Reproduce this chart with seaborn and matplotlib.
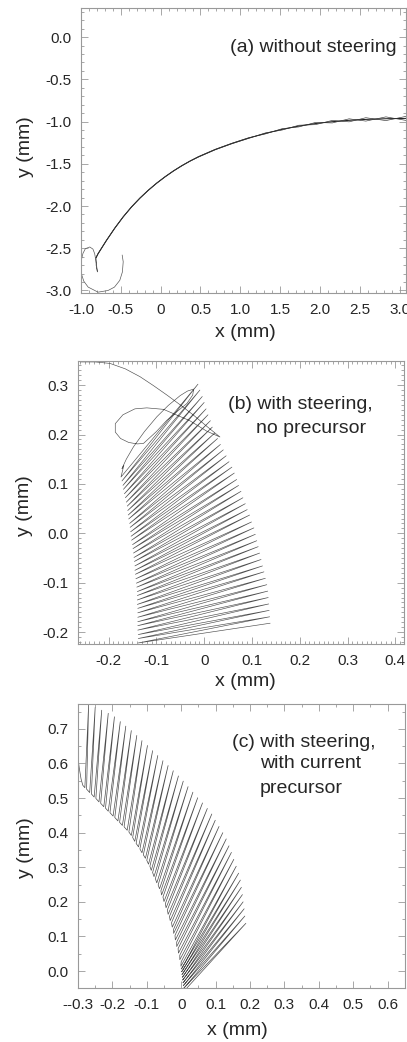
import numpy as np
import matplotlib.pyplot as plt
import seaborn as sns
from matplotlib.ticker import MultipleLocator

# --- style ---
sns.set_style("ticks")
plt.rcParams['font.family'] = ['Liberation Sans', 'DejaVu Sans']
plt.rcParams['axes.unicode_minus'] = False

FRAME = '0.6'

# --- (a) without steering: start loop, then three nearly coincident arcs ---
a_loop_x = [-0.483, -0.470, -0.480, -0.513, -0.580, -0.660, -0.786, -0.910, -0.965, -0.996,
            -0.996, -0.975, -0.945, -0.890, -0.850, -0.828, -0.807, -0.794, -0.810, -0.810]
a_loop_y = [-2.58, -2.66, -2.78, -2.88, -2.96, -3.00, -3.02, -2.96, -2.89, -2.80,
            -2.64, -2.56, -2.505, -2.485, -2.51, -2.565, -2.683, -2.78, -2.70, -2.61]
a_arc_x = [-0.81, -0.786, -0.681, -0.576, -0.471, -0.366, -0.261, -0.156, -0.051, 0.055,
           0.160, 0.265, 0.370, 0.475, 0.685, 0.895, 1.105, 1.315, 1.525, 1.735,
           1.945, 2.155, 2.366, 2.576, 2.828, 3.08, 3.15]
a_arc_mid = [-2.61, -2.565, -2.408, -2.262, -2.129, -2.011, -1.907, -1.814, -1.730, -1.654,
             -1.585, -1.523, -1.467, -1.417, -1.331, -1.259, -1.195, -1.140, -1.092, -1.053,
             -1.023, -1.001, -0.985, -0.974, -0.966, -0.962, -0.961]
a_arc_hi = [-2.61, -2.563, -2.406, -2.260, -2.127, -2.009, -1.905, -1.812, -1.728, -1.652,
            -1.583, -1.521, -1.465, -1.414, -1.328, -1.256, -1.191, -1.146, -1.084, -1.063,
            -1.010, -1.016, -0.967, -0.994, -0.944, -0.986, -0.937]
a_arc_lo = [-2.61, -2.567, -2.410, -2.264, -2.131, -2.013, -1.909, -1.816, -1.732, -1.656,
            -1.587, -1.525, -1.469, -1.420, -1.334, -1.262, -1.199, -1.134, -1.100, -1.043,
            -1.036, -0.986, -1.003, -0.954, -0.988, -0.938, -0.985]

# --- (b) with steering, no precursor ---
b_lead_x = [-0.259, -0.228, -0.197, -0.165, -0.134, -0.106, -0.078, -0.050, -0.022, 0.005,
            0.033, 0.005, -0.030, -0.085, -0.120, -0.145, -0.170, -0.186, -0.186, -0.175,
            -0.158, -0.140, -0.127, -0.100, -0.078, -0.055, -0.036, -0.024, -0.022, -0.035,
            -0.050, -0.075, -0.099, -0.125, -0.148, -0.163, -0.172, -0.168]
b_lead_y = [0.347, 0.347, 0.344, 0.333, 0.317, 0.299, 0.280, 0.260, 0.239, 0.217,
            0.195, 0.207, 0.228, 0.251, 0.254, 0.252, 0.240, 0.222, 0.205, 0.192,
            0.184, 0.181, 0.182, 0.206, 0.229, 0.248, 0.263, 0.280, 0.292, 0.288,
            0.279, 0.259, 0.236, 0.206, 0.175, 0.150, 0.131, 0.138]
b_left_x = [-0.174, -0.172, -0.170, -0.169, -0.167, -0.165, -0.163, -0.161, -0.160, -0.159,
            -0.158, -0.156, -0.155, -0.154, -0.153, -0.152, -0.150, -0.149, -0.148, -0.147,
            -0.146, -0.145, -0.145, -0.144, -0.143, -0.142, -0.141, -0.140, -0.140, -0.140,
            -0.140, -0.139, -0.139, -0.139, -0.139, -0.139, -0.139, -0.138, -0.138, -0.138]
b_left_y = [0.114, 0.106, 0.097, 0.089, 0.080, 0.072, 0.063, 0.055, 0.046, 0.037,
            0.029, 0.020, 0.012, 0.003, -0.006, -0.014, -0.023, -0.031, -0.040, -0.049,
            -0.057, -0.066, -0.075, -0.083, -0.092, -0.101, -0.109, -0.118, -0.126, -0.135,
            -0.144, -0.152, -0.161, -0.170, -0.179, -0.187, -0.196, -0.205, -0.213, -0.222]
b_right_x = [-0.013, -0.009, -0.004, 0.000, 0.004, 0.008, 0.013, 0.017, 0.022, 0.028,
             0.034, 0.040, 0.046, 0.052, 0.058, 0.063, 0.068, 0.072, 0.077, 0.081,
             0.086, 0.090, 0.095, 0.099, 0.104, 0.107, 0.110, 0.113, 0.116, 0.119,
             0.122, 0.125, 0.128, 0.131, 0.133, 0.134, 0.135, 0.136, 0.137, 0.138]
b_right_y = [0.302, 0.290, 0.277, 0.265, 0.252, 0.240, 0.228, 0.215, 0.203, 0.192,
             0.180, 0.169, 0.157, 0.145, 0.134, 0.122, 0.109, 0.097, 0.085, 0.072,
             0.060, 0.048, 0.037, 0.023, 0.011, -0.002, -0.015, -0.027, -0.040, -0.053,
             -0.066, -0.078, -0.091, -0.104, -0.117, -0.130, -0.143, -0.156, -0.169, -0.182]

# --- (c) with steering, with current precursor ---
c_lead_x = [-0.300, -0.296, -0.291, -0.286]
c_lead_y = [0.615, 0.585, 0.555, 0.537]
c_base_x = [-0.280, -0.266, -0.253, -0.239, -0.225, -0.212, -0.198, -0.184, -0.171, -0.157,
            -0.145, -0.135, -0.124, -0.114, -0.104, -0.095, -0.087, -0.079, -0.071, -0.063,
            -0.057, -0.050, -0.044, -0.038, -0.032, -0.026, -0.022, -0.017, -0.013, -0.008,
            -0.004, -0.001, 0.000, 0.001, 0.002, 0.003, 0.004, 0.005, 0.006, 0.007]
c_base_y = [0.530, 0.516, 0.503, 0.489, 0.475, 0.462, 0.448, 0.434, 0.421, 0.407,
            0.392, 0.375, 0.359, 0.342, 0.326, 0.309, 0.291, 0.273, 0.255, 0.238,
            0.220, 0.201, 0.183, 0.164, 0.146, 0.127, 0.109, 0.090, 0.071, 0.052,
            0.033, 0.014, 0.006, -0.002, -0.010, -0.018, -0.026, -0.034, -0.042, -0.050]
c_tip_x = [-0.269, -0.250, -0.231, -0.212, -0.194, -0.177, -0.161, -0.145, -0.129, -0.114,
           -0.098, -0.083, -0.068, -0.053, -0.038, -0.023, -0.008, 0.006, 0.020, 0.034,
           0.048, 0.062, 0.076, 0.089, 0.099, 0.110, 0.121, 0.131, 0.139, 0.146,
           0.153, 0.160, 0.167, 0.172, 0.175, 0.178, 0.180, 0.183, 0.185, 0.188]
c_tip_y = [0.771, 0.762, 0.754, 0.745, 0.735, 0.721, 0.708, 0.695, 0.681, 0.666,
           0.652, 0.637, 0.623, 0.608, 0.594, 0.579, 0.564, 0.549, 0.533, 0.517,
           0.501, 0.486, 0.470, 0.454, 0.436, 0.418, 0.400, 0.382, 0.362, 0.343,
           0.323, 0.303, 0.283, 0.263, 0.242, 0.221, 0.200, 0.180, 0.159, 0.138]
c_back_x = [-0.275, -0.261, -0.248, -0.234, -0.220, -0.207, -0.193, -0.179, -0.166, -0.152,
            -0.141, -0.131, -0.120, -0.110, -0.100, -0.091, -0.083, -0.075, -0.067, -0.059,
            -0.053, -0.046, -0.040, -0.034, -0.028, -0.022, -0.018, -0.013, -0.009, -0.004,
            0.000, 0.003, 0.004, 0.005, 0.006, 0.007, 0.008, 0.009, 0.010, 0.011]
c_back_y = [0.526, 0.512, 0.499, 0.485, 0.471, 0.458, 0.444, 0.430, 0.417, 0.402,
            0.386, 0.369, 0.353, 0.336, 0.320, 0.303, 0.285, 0.267, 0.249, 0.232,
            0.214, 0.195, 0.177, 0.158, 0.140, 0.121, 0.103, 0.084, 0.065, 0.046,
            0.027, 0.009, 0.001, -0.007, -0.015, -0.023, -0.031, -0.039, -0.047, -0.055]

# --- tick labels ---
a_xticks = [-1.0, -0.5, 0, 0.5, 1.0, 1.5, 2.0, 2.5, 3.0]
a_xlabels = ['-1.0', '-0.5', '0', '0.5', '1.0', '1.5', '2.0', '2.5', '3.0']
a_yticks = [0.0, -0.5, -1.0, -1.5, -2.0, -2.5, -3.0]
a_ylabels = ['0.0', '-0.5', '-1.0', '-1.5', '-2.0', '-2.5', '-3.0']
b_xticks = [-0.2, -0.1, 0, 0.1, 0.2, 0.3, 0.4]
b_xlabels = ['-0.2', '-0.1', '0', '0.1', '0.2', '0.3', '0.4']
b_yticks = [0.3, 0.2, 0.1, 0.0, -0.1, -0.2]
b_ylabels = ['0.3', '0.2', '0.1', '0.0', '-0.1', '-0.2']
c_xticks = [-0.3, -0.2, -0.1, 0, 0.1, 0.2, 0.3, 0.4, 0.5, 0.6]
c_xlabels = ['--0.3', '-0.2', '-0.1', '0', '0.1', '0.2', '0.3', '0.4', '0.5', '0.6']
c_yticks = [0.7, 0.6, 0.5, 0.4, 0.3, 0.2, 0.1, 0.0]
c_ylabels = ['0.7', '0.6', '0.5', '0.4', '0.3', '0.2', '0.1', '0.0']


def trace(ax, xs, ys, lw=0.6, color='0.2'):
    sns.lineplot(x=np.asarray(xs), y=np.asarray(ys), sort=False, estimator=None,
                 ax=ax, color=color, linewidth=lw)


def style(ax, xt, xl, xminor, yt, yl, yminor, xlim, ylim):
    ax.set_xlim(*xlim)
    ax.set_ylim(*ylim)
    ax.set_xticks(xt)
    ax.set_xticklabels(xl)
    ax.set_yticks(yt)
    ax.set_yticklabels(yl)
    ax.xaxis.set_minor_locator(MultipleLocator(xminor))
    ax.yaxis.set_minor_locator(MultipleLocator(yminor))
    ax.tick_params(which='both', direction='in', top=True, right=True,
                   color=FRAME, width=0.6, labelsize=11)
    ax.tick_params(which='major', length=5)
    ax.tick_params(which='minor', length=2.5)
    ax.tick_params(axis='x', pad=7)
    ax.tick_params(axis='y', pad=7)
    for s in ax.spines.values():
        s.set_color(FRAME)
        s.set_linewidth(0.8)


fig = plt.figure(figsize=(4.07, 10.42), dpi=100)

# panel (a)
ax_a = fig.add_axes([0.199, 0.7188, 0.7985, 0.2735])
trace(ax_a, a_loop_x, a_loop_y, lw=0.5, color='0.35')
trace(ax_a, a_arc_x, a_arc_mid, lw=0.7, color='0.1')
trace(ax_a, a_arc_x, a_arc_hi, lw=0.45, color='0.2')
trace(ax_a, a_arc_x, a_arc_lo, lw=0.45, color='0.2')
style(ax_a, a_xticks, a_xlabels, 0.1, a_yticks, a_ylabels, 0.1, (-1.0, 3.08), (-3.03, 0.345))
ax_a.text(0.457, 0.86, '(a) without steering', transform=ax_a.transAxes,
          fontsize=14, va='center', ha='left')
ax_a.set_xlabel('x (mm)', fontsize=14, va='center')
ax_a.xaxis.set_label_coords(0.505, -0.14)
ax_a.set_ylabel('y (mm)', fontsize=14, va='center')
ax_a.yaxis.set_label_coords(-0.172, 0.512)

# panel (b)
ax_b = fig.add_axes([0.1916, 0.382, 0.801, 0.2716])
zig_bx = np.column_stack([b_left_x, b_right_x]).ravel()
zig_by = np.column_stack([b_left_y, b_right_y]).ravel()
trace(ax_b, np.concatenate([b_lead_x, zig_bx]), np.concatenate([b_lead_y, zig_by]),
      lw=0.45, color='0.3')
style(ax_b, b_xticks, b_xlabels, 0.01, b_yticks, b_ylabels, 0.01, (-0.264, 0.418), (-0.224, 0.349))
ax_b.text(0.46, 0.845, '(b) with steering,', transform=ax_b.transAxes,
          fontsize=14, va='center', ha='left')
ax_b.text(0.546, 0.763, 'no precursor', transform=ax_b.transAxes,
          fontsize=14, va='center', ha='left')
ax_b.set_xlabel('x (mm)', fontsize=14, va='center')
ax_b.xaxis.set_label_coords(0.512, -0.131)
ax_b.set_ylabel('y (mm)', fontsize=14, va='center')
ax_b.yaxis.set_label_coords(-0.163, 0.49)

# panel (c)
ax_c = fig.add_axes([0.1916, 0.0518, 0.803, 0.2726])
zig_cx = np.column_stack([c_base_x, c_tip_x, c_back_x]).ravel()
zig_cy = np.column_stack([c_base_y, c_tip_y, c_back_y]).ravel()
trace(ax_c, np.concatenate([c_lead_x, zig_cx]), np.concatenate([c_lead_y, zig_cy]),
      lw=0.5, color='0.3')
style(ax_c, c_xticks, c_xlabels, 0.05, c_yticks, c_ylabels, 0.05, (-0.3, 0.65), (-0.049, 0.772))
ax_c.text(0.471, 0.866, '(c) with steering,', transform=ax_c.transAxes,
          fontsize=14, va='center', ha='left')
ax_c.text(0.557, 0.792, 'with current', transform=ax_c.transAxes,
          fontsize=14, va='center', ha='left')
ax_c.text(0.557, 0.704, 'precursor', transform=ax_c.transAxes,
          fontsize=14, va='center', ha='left')
ax_c.set_xlabel('x (mm)', fontsize=14, va='center')
ax_c.xaxis.set_label_coords(0.489, -0.148)
ax_c.set_ylabel('y (mm)', fontsize=14, va='center')
ax_c.yaxis.set_label_coords(-0.162, 0.496)

fig.savefig('out.png', dpi=100)
